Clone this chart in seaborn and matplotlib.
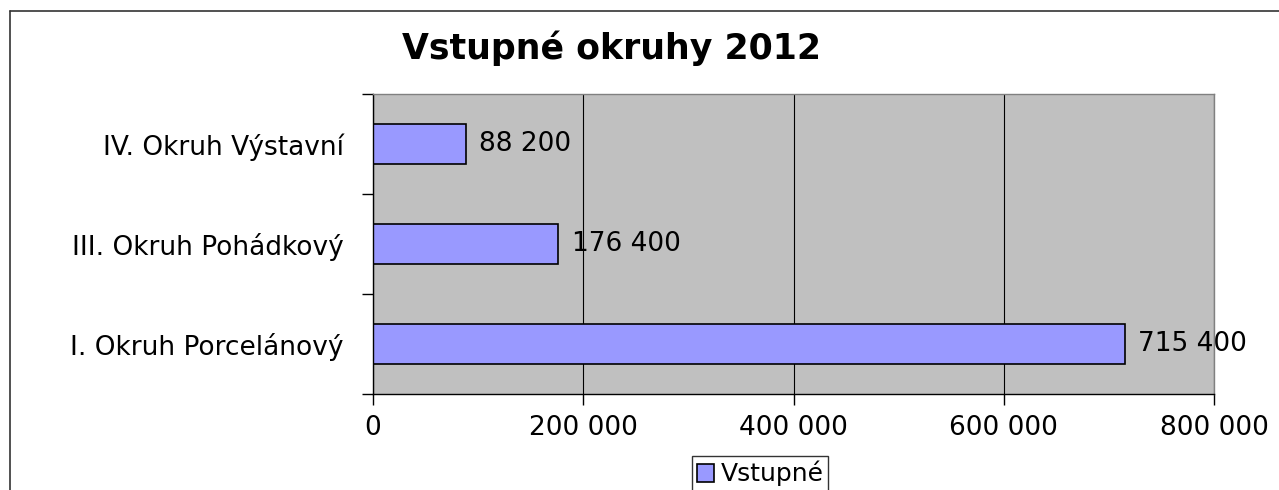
import pandas as pd
import matplotlib.pyplot as plt
import matplotlib.lines as mlines
from matplotlib.ticker import FuncFormatter, FixedLocator
import seaborn as sns

okruhy = ["IV. Okruh Výstavní", "III. Okruh Pohádkový", "I. Okruh Porcelánový"]
vstupne = [88200, 176400, 715400]
xticks = [0, 200000, 400000, 600000, 800000]

df = pd.DataFrame({"okruh": okruhy, "vstupne": vstupne})

sns.set_style("white")
plt.rcParams["font.family"] = ["DejaVu Sans"]
for k in ["text.color", "axes.labelcolor", "xtick.color", "ytick.color"]:
    plt.rcParams[k] = "black"

fig = plt.figure(figsize=(12.79, 4.90), dpi=100)
ax = fig.add_axes([373 / 1279, 1 - 394 / 490, (1214 - 373) / 1279, 300 / 490])
ax.set_facecolor("#c0c0c0")

sns.barplot(data=df, x="vstupne", y="okruh", order=okruhy, orient="h",
            color="#9999ff", edgecolor="black", linewidth=1.2, width=0.4,
            saturation=1, label="Vstupné", ax=ax)

def mezera(v, pos=None):
    return f"{int(v):,}".replace(",", " ")

# popisky hodnot
for i, v in enumerate(vstupne):
    ax.text(v + 12500, i, mezera(v), va="center", ha="left", fontsize=19)

ax.set_xlim(0, 800000)
ax.set_ylim(2.5, -0.5)
ax.xaxis.set_major_locator(FixedLocator(xticks))
ax.xaxis.set_major_formatter(FuncFormatter(mezera))
ax.grid(axis="x", color="black", linewidth=0.8)
ax.set_axisbelow(True)
ax.set_xlabel("")
ax.set_ylabel("")

ax.tick_params(axis="y", which="major", length=0, pad=21, labelsize=19)
ax.set_yticks([-0.5, 0.5, 1.5, 2.5], minor=True)
ax.tick_params(axis="y", which="minor", length=8, width=1, direction="out", left=True)
ax.tick_params(axis="x", length=8, width=1, direction="out", bottom=True, labelsize=19, pad=7)

for s in ["left", "bottom"]:
    ax.spines[s].set_color("black")
    ax.spines[s].set_linewidth(1)
for s in ["top", "right"]:
    ax.spines[s].set_color("#808080")
    ax.spines[s].set_linewidth(1)

fig.text(611 / 1279, 1 - 48 / 490, "Vstupné okruhy 2012", ha="center", va="center",
         fontsize=25, fontweight="bold")

# ramecek grafu (orezany)
fig.add_artist(mlines.Line2D([10 / 1279, 1], [1 - 11 / 490, 1 - 11 / 490], color="#333333", linewidth=1.2))
fig.add_artist(mlines.Line2D([10 / 1279, 10 / 1279], [0, 1 - 11 / 490], color="#333333", linewidth=1.2))

leg = ax.legend(loc="upper center", bbox_to_anchor=(760 / 1279, 1 - 456 / 490),
                bbox_transform=fig.transFigure, fontsize=18, frameon=True, fancybox=False,
                edgecolor="black", handlelength=0.7, handleheight=0.7, handletextpad=0.25,
                borderpad=0.2, borderaxespad=0)
leg.get_frame().set_linewidth(1)

fig.savefig("out.png", dpi=100)
